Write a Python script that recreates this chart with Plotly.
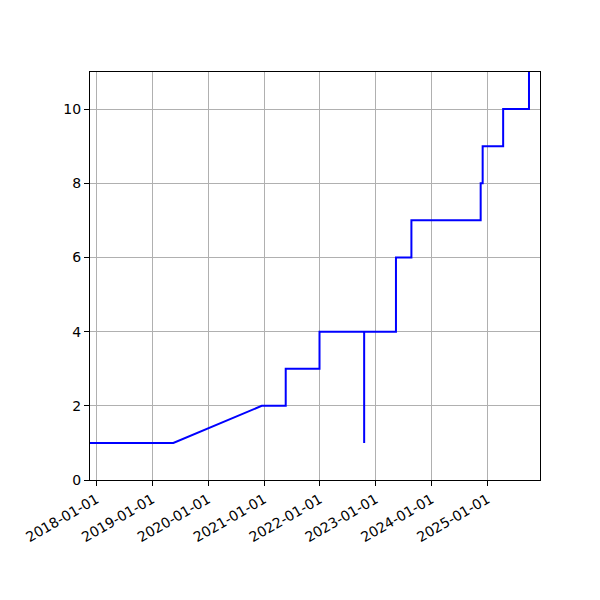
import plotly.graph_objects as go

# cumulative count; repeated dates make the vertical steps
dates = [
    "2017-11-20", "2019-05-19", "2020-12-17",
    "2021-05-23", "2021-05-23",
    "2021-12-30", "2021-12-30",
    "2022-10-18", "2022-10-18", "2022-10-18",
    "2023-05-14", "2023-05-14",
    "2023-08-23", "2023-08-23",
    "2024-11-18", "2024-11-18",
    "2024-12-01", "2024-12-01",
    "2025-04-14", "2025-04-14",
    "2025-09-30", "2025-09-30",
]
counts = [
    1, 1, 2,
    2, 3,
    3, 4,
    4, 1, 4,
    4, 6,
    6, 7,
    7, 8,
    8, 9,
    9, 10,
    10, 11,
]
x_range = ["2017-11-20", "2025-12-11"]
y_range = [0, 11]
y_ticks = [0, 2, 4, 6, 8, 10]

fig = go.Figure()
fig.add_trace(go.Scatter(
    x=dates, y=counts, mode="lines",
    line={"color": "blue", "width": 2},
    showlegend=False,
))

axis_style = {
    "showline": True, "linecolor": "black", "linewidth": 1, "mirror": True,
    "ticks": "outside", "ticklen": 5, "tickcolor": "black",
    "showgrid": True, "gridcolor": "#b0b0b0", "gridwidth": 1,
    "zeroline": False,
}
fig.update_xaxes(
    type="date", range=x_range,
    tick0="2018-01-01", dtick="M12", tickformat="%Y-%m-%d",
    tickangle=-30, **axis_style,
)
fig.update_yaxes(range=y_range, tickvals=y_ticks, **axis_style)

# the page body adds an 8px offset, so margins are trimmed on the left/top
fig.update_layout(
    width=600, height=600,
    margin={"l": 82, "r": 68, "t": 64, "b": 128},
    paper_bgcolor="white", plot_bgcolor="white",
    font={"family": "DejaVu Sans", "size": 14, "color": "black"},
)
fig.write_html("out.html")
